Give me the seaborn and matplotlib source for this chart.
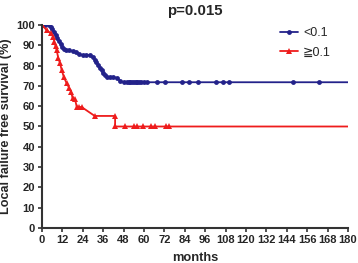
import matplotlib
matplotlib.use("Agg")
import matplotlib.pyplot as plt
from matplotlib.lines import Line2D
import seaborn as sns
import numpy as np

# ---- data ----
blue_t = [0, 2, 4, 5, 6, 7, 8, 9, 10, 11, 12, 13, 14, 16, 18, 20, 22, 24, 26, 28,
          30, 31, 32, 33, 34, 35, 36, 37, 38, 40, 42, 44, 46, 48,
          50, 51, 52, 53, 54, 55, 56, 57, 58, 60, 62, 67.5, 72.4, 82.2, 86.5, 91.6,
          102.4, 106.3, 109.8, 147.8, 163.1, 180]
blue_s = [100, 100, 100, 99, 98, 96.5, 95, 93.5, 92, 90.5, 89, 88, 87.5, 87.5, 87, 86.5, 85.5, 85.2, 85.2, 85.2,
          84, 83, 82, 80.5, 79, 78, 76.5, 75.5, 74.5, 74.2, 74.2, 74, 72.5, 71.8,
          71.8, 71.8, 71.8, 71.8, 71.8, 71.8, 71.8, 71.8, 71.8, 71.8, 71.8, 71.8, 71.8, 71.8, 71.8, 71.8,
          71.8, 71.8, 71.8, 71.8, 71.8, 71.8]
red_t = [0, 2.7, 5, 6.7, 7.3, 8, 8.6, 9.6, 10.6, 11.6, 12.9, 14.5, 16, 17.1, 18, 19.4, 20.4,
         21.5, 23.3, 31, 43, 43, 48.8, 54.3, 55.7, 59.2, 63.9, 66.5, 72.7, 74.9, 180]
red_s = [100, 97.5, 96, 94.2, 91.8, 89.5, 87.7, 83.6, 81.1, 77.8, 74.2, 71.3, 69, 67.1, 64, 63.5, 59.8,
         59.6, 59.6, 55.2, 55.2, 50, 50, 50, 50, 50, 50, 50, 50, 50, 50]
group_labels = ["<0.1", "\u22670.1"]
x_ticks = list(range(0, 181, 12))
y_ticks = list(range(0, 101, 10))
title_text = "p=0.015"
x_label = "months"
y_label = "Local failure free survival (%)"

BLUE = "#23228A"
RED = "#EE1C1C"

sns.set_style("ticks")
plt.rcParams["font.family"] = ["Liberation Sans", "DejaVu Sans"]

fig = plt.figure(figsize=(3.58, 2.63), dpi=100)
ax = fig.add_axes([42 / 358, 35 / 263, 306 / 358, 203 / 263])

sns.lineplot(x=blue_t, y=blue_s, ax=ax, color=BLUE, linewidth=1.3, estimator=None, sort=False,
             marker="o", markersize=3.5, markeredgewidth=0, markevery=list(range(len(blue_t) - 1)))
sns.lineplot(x=red_t, y=red_s, ax=ax, color=RED, linewidth=1.3, estimator=None, sort=False,
             marker="^", markersize=4.2, markeredgewidth=0, markevery=list(range(len(red_t) - 1)))

ax.set_xlim(0, 180)
ax.set_ylim(0, 100)
ax.set_xticks(x_ticks)
ax.set_yticks(y_ticks)
ax.set_xticklabels([str(v) for v in x_ticks], fontsize=8, fontweight="bold")
ax.set_yticklabels([str(v) for v in y_ticks], fontsize=8, fontweight="bold")
ax.tick_params(axis="both", direction="out", length=3, width=1.2, color="#333333", pad=2)

for s in ["top", "right"]:
    ax.spines[s].set_visible(False)
for s in ["left", "bottom"]:
    ax.spines[s].set_linewidth(1.5)
    ax.spines[s].set_color("#333333")

ax.set_xlabel(x_label, fontsize=9.3, fontweight="bold", labelpad=5)
ax.set_ylabel(y_label, fontsize=9.1, fontweight="bold", labelpad=3)
ax.set_title(title_text, fontsize=10.8, fontweight="bold", pad=7)

handles = [Line2D([0], [0], color=BLUE, lw=1.3, marker="o", markersize=3.5, markeredgewidth=0),
           Line2D([0], [0], color=RED, lw=1.3, marker="^", markersize=4.2, markeredgewidth=0)]
ax.legend(handles, group_labels, loc="upper left", bbox_to_anchor=(280 / 358, 1 - 27 / 263),
          bbox_transform=fig.transFigure, frameon=False, borderpad=0, borderaxespad=0,
          fontsize=9, handlelength=1.44, handletextpad=0.4, labelspacing=0.6)

fig.savefig("out.png", dpi=100)
